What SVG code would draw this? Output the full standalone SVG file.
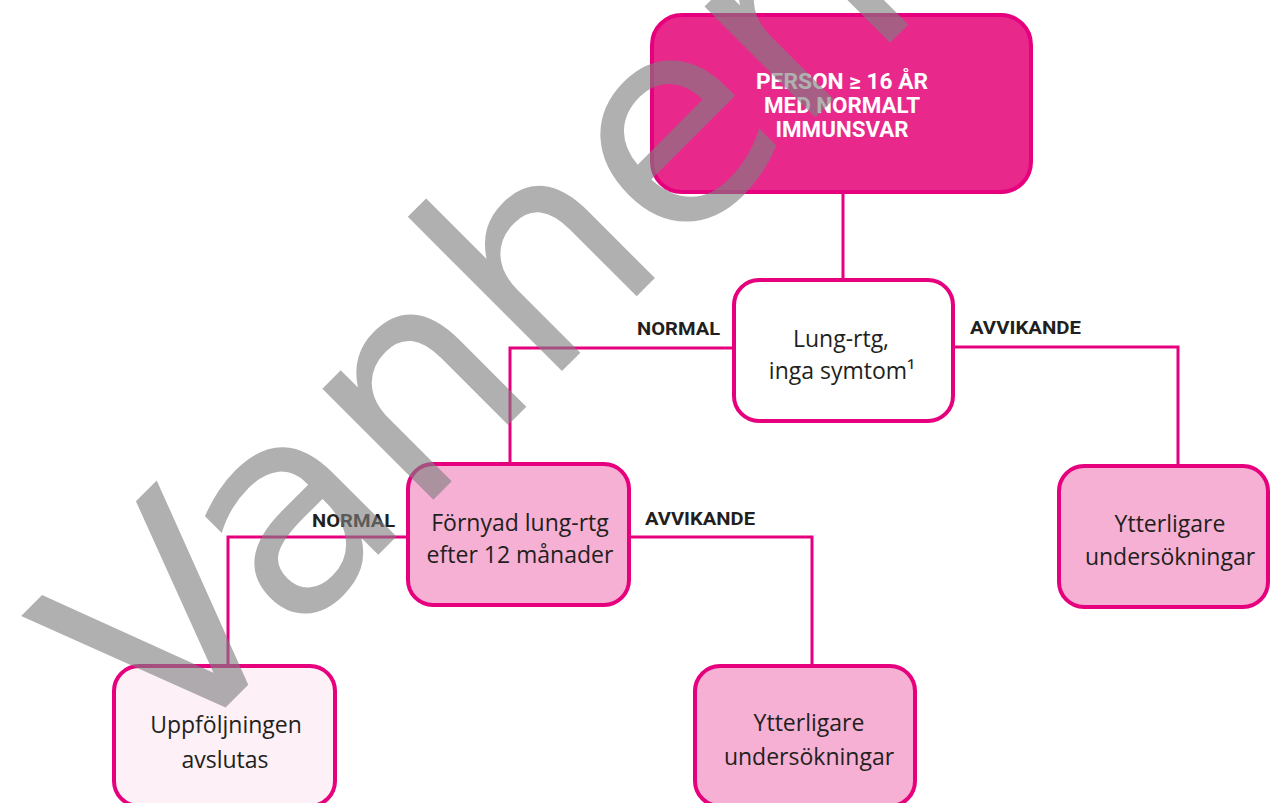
<svg xmlns="http://www.w3.org/2000/svg" width="1270" height="803" viewBox="0 0 1270 803">
  <style>
    .box { stroke: #E6007E; stroke-width: 4; }
    .start { fill: #E8288B; }
    .white { fill: #FFFFFF; }
    .pink { fill: #F5B0D4; }
    .pale { fill: #FDF0F7; }
    .conn { fill: none; stroke: #E6007E; stroke-width: 3; }
    .txt { font-family: "Open Sans", "Noto Sans", "Liberation Sans", sans-serif; font-size: 23px; fill: #231F20; text-anchor: middle; }
    .head { font-family: Roboto, "Liberation Sans", sans-serif; font-weight: bold; font-size: 22px; fill: #FFFFFF; text-anchor: middle; }
    .lbl { font-family: Roboto, "Liberation Sans", sans-serif; font-weight: bold; font-size: 19px; fill: #231F20; }
    .wm { font-family: "DejaVu Sans", Verdana, sans-serif; font-size: 287px; fill: #808080; opacity: 0.62; }
  </style>

  <rect width="1270" height="803" fill="#FFFFFF"/>

  <g id="connectors">
    <line class="conn" x1="843" y1="193" x2="843" y2="280"/>
    <polyline class="conn" points="733,348 510,348 510,464"/>
    <polyline class="conn" points="954,347 1178,347 1178,466"/>
    <polyline class="conn" points="407,537 228,537 228,666"/>
    <polyline class="conn" points="630,537 812,537 812,666"/>
    <text class="lbl" x="637" y="335" textLength="83" lengthAdjust="spacingAndGlyphs">NORMAL</text>
    <text class="lbl" x="970" y="334" textLength="111" lengthAdjust="spacingAndGlyphs">AVVIKANDE</text>
    <text class="lbl" x="312" y="527" textLength="83" lengthAdjust="spacingAndGlyphs">NORMAL</text>
    <text class="lbl" x="645" y="525" textLength="110" lengthAdjust="spacingAndGlyphs">AVVIKANDE</text>
  </g>

  <g id="node-start">
    <rect class="box start" x="652" y="15" width="379" height="177" rx="30" ry="30"/>
    <text class="head" x="842" y="89" textLength="172" lengthAdjust="spacingAndGlyphs">PERSON ≥ 16 ÅR</text>
    <text class="head" x="842" y="113" textLength="156" lengthAdjust="spacingAndGlyphs">MED NORMALT</text>
    <text class="head" x="842" y="137" textLength="133" lengthAdjust="spacingAndGlyphs">IMMUNSVAR</text>
  </g>

  <g id="node-lungrtg">
    <rect class="box white" x="734" y="280" width="219" height="141" rx="25" ry="25"/>
    <text class="txt" x="841" y="347">Lung-rtg,</text>
    <text class="txt" x="842" y="379">inga symtom¹</text>
  </g>

  <g id="node-fornyad">
    <rect class="box pink" x="408" y="464" width="221" height="141" rx="25" ry="25"/>
    <text class="txt" x="520" y="531">Förnyad lung-rtg</text>
    <text class="txt" x="520" y="563">efter 12 månader</text>
  </g>

  <g id="node-ytterligare-1">
    <rect class="box pink" x="1059" y="466" width="209" height="141" rx="25" ry="25"/>
    <text class="txt" x="1170" y="532">Ytterligare</text>
    <text class="txt" x="1170" y="565">undersökningar</text>
  </g>

  <g id="node-avslutas">
    <rect class="box pale" x="114" y="666" width="221" height="140" rx="25" ry="25"/>
    <text class="txt" x="226" y="733">Uppföljningen</text>
    <text class="txt" x="225" y="768">avslutas</text>
  </g>

  <g id="node-ytterligare-2">
    <rect class="box pink" x="695" y="666" width="220" height="140" rx="25" ry="25"/>
    <text class="txt" x="809" y="731">Ytterligare</text>
    <text class="txt" x="809" y="765">undersökningar</text>
  </g>

  <g id="watermark">
    <text class="wm" transform="translate(167.5,765.5) rotate(-45)">Vanhentunut</text>
  </g>
</svg>
